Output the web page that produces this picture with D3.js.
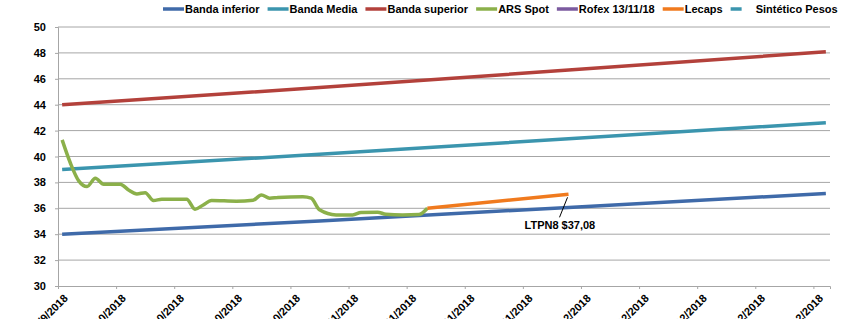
<!DOCTYPE html>
<html>
<head>
<meta charset="utf-8">
<script src="https://cdn.jsdelivr.net/npm/d3@7"></script>
<style>
	body { margin: 0; background: #fff; }
	text { font-family: "Liberation Sans", Arial, sans-serif; font-weight: bold; font-size: 11px; fill: #000; }
</style>
</head>
<body>
<svg id="chart" width="847" height="319"></svg>
<script>
// series data
var bandDates = ["2018-09-30", "2018-10-31", "2018-11-30", "2018-12-31"];
var bandaInferior = [34.00, 35.02, 36.07, 37.15];
var bandaMedia = [39.00, 40.17, 41.37, 42.61];
var bandaSuperior = [44.00, 45.32, 46.68, 48.08];

var spotDates = ["2018-09-30", "2018-10-01", "2018-10-02", "2018-10-03", "2018-10-04", "2018-10-05",
	"2018-10-07", "2018-10-08", "2018-10-09", "2018-10-10", "2018-10-11", "2018-10-12",
	"2018-10-15", "2018-10-16", "2018-10-17", "2018-10-18", "2018-10-21", "2018-10-23",
	"2018-10-24", "2018-10-25", "2018-10-26", "2018-10-29", "2018-10-30", "2018-10-31",
	"2018-11-02", "2018-11-04", "2018-11-05", "2018-11-07", "2018-11-08", "2018-11-10",
	"2018-11-12", "2018-11-13"];
var arsSpot = [41.28, 39.48, 38.12, 37.68, 38.32, 37.86,
	37.86, 37.42, 37.11, 37.21, 36.60, 36.70,
	36.70, 35.93, 36.26, 36.60, 36.55, 36.62,
	37.03, 36.78, 36.84, 36.90, 36.78, 35.88,
	35.49, 35.49, 35.67, 35.70, 35.54, 35.49,
	35.52, 36.00];

var lecapsDates = ["2018-11-13", "2018-11-30"];
var lecaps = [36.00, 37.08];

var rofexValues = [];
var sinteticoValues = [];

var yTicks = [30, 32, 34, 36, 38, 40, 42, 44, 46, 48, 50];
var xStart = "2018-09-30", xEnd = "2019-01-01";
var annotationText = "LTPN8 $37,08";

var legendNames = ["Banda inferior", "Banda Media", "Banda superior", "ARS Spot", "Rofex 13/11/18", "Lecaps", " Sintético Pesos"];
var legendColors = ["#3f6aa9", "#3b95ae", "#b3413b", "#8bb04a", "#7b5a9f", "#f07a1e", "#3b95ae"];

var parse = d3.timeParse("%Y-%m-%d");
var fmt = d3.timeFormat("%-d/%-m/%Y");

var svg = d3.select("#chart");
var plotLeft = 58, plotRight = 830, plotTop = 27, plotBottom = 286;

var x = d3.scaleTime().domain([parse(xStart), parse(xEnd)]).range([plotLeft, plotRight]);
var y = d3.scaleLinear().domain([30, 50]).range([plotBottom, plotTop]);

// points sit in the middle of their day, like excel's date axis
function px(d) { return x(d3.timeHour.offset(d, 12)); }

// grid
svg.append("g").selectAll("line").data(yTicks.filter(function(v) { return v > 30; }))
	.enter().append("line")
	.attr("x1", plotLeft).attr("x2", plotRight)
	.attr("y1", function(d) { return y(d); }).attr("y2", function(d) { return y(d); })
	.attr("stroke", "#a6a6a6").attr("stroke-width", 1);

// y axis
var yAxis = svg.append("g").attr("transform", "translate(" + plotLeft + ",0)")
	.call(d3.axisLeft(y).tickValues(yTicks).tickSize(3).tickPadding(9).tickFormat(d3.format("d")));
yAxis.select(".domain").attr("stroke", "#a6a6a6");
yAxis.selectAll(".tick line").attr("stroke", "#a6a6a6");
yAxis.selectAll("text").attr("font-family", null).attr("font-size", null);

// x axis, a tick every week
var xTicks = d3.timeDay.range(parse(xStart), parse(xEnd), 7);
var xAxis = svg.append("g").attr("transform", "translate(0," + plotBottom + ")")
	.call(d3.axisBottom(x).tickValues(xTicks).tickSize(3).tickFormat(fmt));
xAxis.select(".domain").attr("stroke", "#a6a6a6");
xAxis.selectAll(".tick line").attr("stroke", "#a6a6a6");
xAxis.selectAll("text").attr("font-family", null).attr("font-size", null)
	.attr("text-anchor", "end")
	.attr("dy", null).attr("y", 0)
	.attr("transform", "translate(10,13) rotate(-45)");

function series(dates, values) {
	return dates.map(function(d, i) { return { date: parse(d), value: values[i] }; });
}

var straight = d3.line().x(function(d) { return px(d.date); }).y(function(d) { return y(d.value); });
var smooth = d3.line().curve(d3.curveMonotoneX).x(function(d) { return px(d.date); }).y(function(d) { return y(d.value); });

var gLines = svg.append("g").attr("class", "lines");

function drawLine(data, color, width, gen) {
	gLines.append("path").datum(data)
		.attr("fill", "none")
		.attr("stroke", color)
		.attr("stroke-width", width)
		.attr("stroke-linejoin", "round")
		.attr("d", gen);
}

drawLine(series(bandDates, bandaInferior), legendColors[0], 3.5, straight);
drawLine(series(bandDates, bandaMedia), legendColors[1], 3.5, straight);
drawLine(series(bandDates, bandaSuperior), legendColors[2], 3.5, straight);
drawLine(series(spotDates, arsSpot), legendColors[3], 3.5, smooth);
drawLine(series(lecapsDates, lecaps), legendColors[5], 3.5, straight);

// annotation for the last lecaps point
var lastLecap = series(lecapsDates, lecaps)[lecaps.length - 1];
var ax = px(lastLecap.date), ay = y(lastLecap.value);
svg.append("line")
	.attr("x1", ax - 1).attr("y1", ay + 3)
	.attr("x2", ax - 9).attr("y2", ay + 23)
	.attr("stroke", "#000").attr("stroke-width", 1);
svg.append("text")
	.attr("x", ax - 44).attr("y", ay + 35)
	.text(annotationText);

// legend
var legend = svg.append("g").attr("class", "legend");
var lx = 163;
legendNames.forEach(function(name, i) {
	var item = legend.append("g").attr("transform", "translate(" + lx + ",9)");
	item.append("line")
		.attr("x1", 0).attr("x2", 21)
		.attr("stroke", legendColors[i])
		.attr("stroke-width", 3.5)
		.attr("stroke-dasharray", i == 6 ? "11,10" : null);
	var t = item.append("text").attr("x", 22).attr("y", 4).text(name)
		.style("white-space", "pre");
	lx += 22 + t.node().getComputedTextLength() + 8;
});
</script>
</body>
</html>
